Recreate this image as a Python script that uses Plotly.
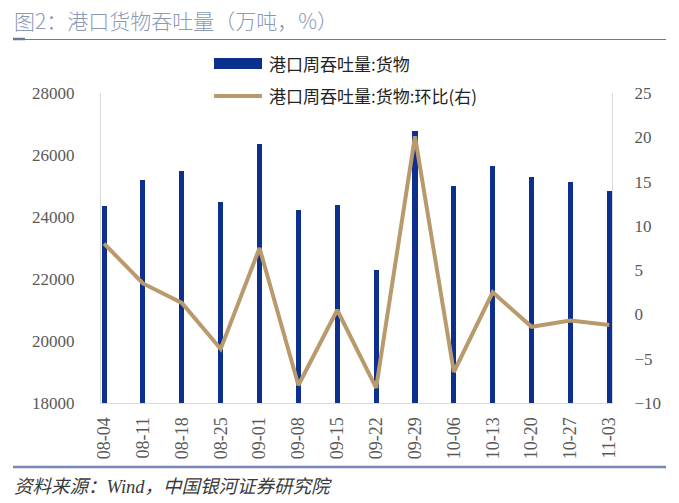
import plotly.graph_objects as go

categories = ["08-04", "08-11", "08-18", "08-25", "09-01", "09-08", "09-15",
              "09-22", "09-29", "10-06", "10-13", "10-20", "10-27", "11-03"]
throughput = [24350, 25190, 25490, 24470, 26350, 24230, 24380,
              22290, 26780, 25010, 25650, 25280, 25140, 24840]
wow_pct = [8.0, 3.5, 1.3, -3.9, 7.5, -8.0, 0.5,
           -8.3, 20.1, -6.5, 2.5, -1.4, -0.7, -1.2]

bar_name = "港口周吞吐量:货物"
line_name = "港口周吞吐量:货物:环比(右)"
title_text = "图2：港口货物吞吐量（万吨，%）"
source_text = "资料来源：Wind，中国银河证券研究院"

W, H = 679, 503
ML, MR, MT, MB = 101, 67, 93, 100
PW, PH = W - ML - MR, H - MT - MB

BLUE = "#0D2F8E"
TAN = "#B89A6C"
CJK = "Noto Sans CJK SC"
SERIF = "Liberation Serif, Noto Serif CJK SC, Noto Sans CJK SC"


def px(x):
    return (x - ML) / PW


def py(y):
    return (H - MB - y) / PH


fig = go.Figure()
fig.add_trace(go.Bar(x=categories, y=throughput, name=bar_name,
                     marker=dict(color=BLUE, line=dict(width=0)),
                     width=0.13, yaxis="y", showlegend=False))
fig.add_trace(go.Scatter(x=categories, y=wow_pct, name=line_name,
                         mode="lines", line=dict(color=TAN, width=4),
                         yaxis="y2", showlegend=False))

shapes = [
    # title underline
    dict(type="line", xref="paper", yref="paper", x0=px(13), x1=px(666),
         y0=py(39.5), y1=py(39.5), line=dict(color="#6B7A90", width=1)),
    dict(type="line", xref="paper", yref="paper", x0=px(13), x1=px(25),
         y0=py(39), y1=py(39), line=dict(color="#6B7A90", width=2.5)),
    # bottom rule
    dict(type="line", xref="paper", yref="paper", x0=px(13), x1=px(666),
         y0=py(467), y1=py(467), line=dict(color="#7886B4", width=2.5)),
    # legend swatches
    dict(type="rect", xref="paper", yref="paper", x0=px(214), x1=px(262),
         y0=py(69), y1=py(58), fillcolor=BLUE, line=dict(width=0)),
    dict(type="line", xref="paper", yref="paper", x0=px(214), x1=px(262),
         y0=py(96), y1=py(96), line=dict(color=TAN, width=4)),
]

annotations = [
    dict(text=title_text, xref="paper", yref="paper", x=px(12), y=py(20),
         xanchor="left", yanchor="middle", showarrow=False,
         font=dict(family=CJK, size=21, color="#8C99B6", weight=300)),
    dict(text=source_text, xref="paper", yref="paper", x=px(12), y=py(487),
         xanchor="left", yanchor="middle", showarrow=False,
         font=dict(family="Liberation Serif, " + CJK, size=18.5,
                   color="#3A3A3A", style="italic")),
    dict(text=bar_name, xref="paper", yref="paper", x=px(267), y=py(63),
         xanchor="left", yanchor="middle", showarrow=False,
         font=dict(family=CJK, size=17, color="#222222")),
    dict(text=line_name, xref="paper", yref="paper", x=px(267), y=py(96),
         xanchor="left", yanchor="middle", showarrow=False,
         font=dict(family=CJK, size=17, color="#222222")),
]

fig.update_layout(
    width=W, height=H,
    margin=dict(l=ML, r=MR, t=MT, b=MB, pad=0),
    paper_bgcolor="white", plot_bgcolor="white",
    showlegend=False,
    shapes=shapes, annotations=annotations,
    xaxis=dict(type="category", range=[-0.08, 13.07], tickangle=-90,
               showgrid=False, showline=True, linecolor="#D9D9D9", linewidth=1,
               ticks="", ticklabelstandoff=6,
               tickfont=dict(family=SERIF, size=18, color="#595959")),
    yaxis=dict(range=[18000, 28000], dtick=2000, tickformat="d", showgrid=False,
               showline=True, linecolor="#D9D9D9", linewidth=1,
               ticks="", ticklabelstandoff=22, zeroline=False,
               tickfont=dict(family=SERIF, size=17, color="#595959")),
    yaxis2=dict(range=[-10, 25], dtick=5, overlaying="y", side="right",
                showgrid=False, showline=True, linecolor="#D9D9D9", linewidth=1,
                ticks="", ticklabelstandoff=18, zeroline=False,
                tickfont=dict(family=SERIF, size=17, color="#595959")),
    bargap=0,
)

fig.write_html("out.html", config={"displayModeBar": False},
               post_script="document.body.style.margin='0';document.body.style.padding='0';")
